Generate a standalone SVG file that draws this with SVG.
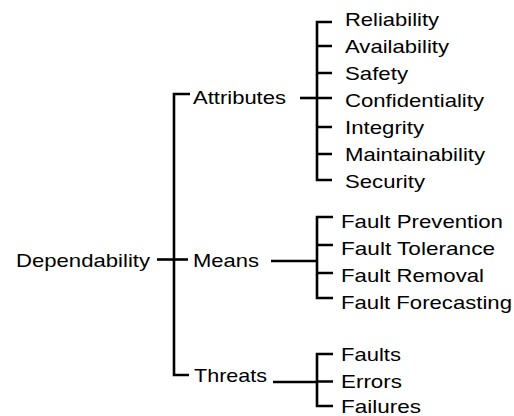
<svg xmlns="http://www.w3.org/2000/svg" width="514" height="416" viewBox="0 0 514 416">
<style>
text{font-family:"Liberation Sans",Arial,sans-serif;font-size:19px;fill:#000}
.c{fill:none;stroke:#000;stroke-width:2.6;stroke-linejoin:miter;stroke-linecap:butt}
</style>
<rect width="514" height="416" fill="#fff"/>
<g id="connectors">
<path class="c" d="M190,94H174V375H189"/>
<path class="c" d="M157,259.5H188"/>
<path class="c" d="M300,98H317"/>
<path class="c" d="M332,22H317V180H332M317,46H332M317,73H332M317,98H332M317,127H332M317,154H332"/>
<path class="c" d="M271,261H317"/>
<path class="c" d="M333,217H317V298H333M317,245H333M317,273H333"/>
<path class="c" d="M273,382H317"/>
<path class="c" d="M333,354H317V406H333M317,381.5H333"/>
</g>
<g id="n-dependability"><text x="16" y="266.5" textLength="134" lengthAdjust="spacingAndGlyphs">Dependability</text></g>
<g id="n-attributes"><text x="193" y="104" textLength="93" lengthAdjust="spacingAndGlyphs">Attributes</text></g>
<g id="n-means"><text x="193" y="266.5" textLength="66" lengthAdjust="spacingAndGlyphs">Means</text></g>
<g id="n-threats"><text x="194" y="382" textLength="73" lengthAdjust="spacingAndGlyphs">Threats</text></g>
<g id="n-reliability"><text x="345" y="25.5" textLength="94" lengthAdjust="spacingAndGlyphs">Reliability</text></g>
<g id="n-availability"><text x="345" y="52.5" textLength="104" lengthAdjust="spacingAndGlyphs">Availability</text></g>
<g id="n-safety"><text x="345" y="79.5" textLength="63" lengthAdjust="spacingAndGlyphs">Safety</text></g>
<g id="n-confidentiality"><text x="345" y="106.5" textLength="139" lengthAdjust="spacingAndGlyphs">Confidentiality</text></g>
<g id="n-integrity"><text x="345" y="133.5" textLength="79" lengthAdjust="spacingAndGlyphs">Integrity</text></g>
<g id="n-maintainability"><text x="345" y="160.5" textLength="140" lengthAdjust="spacingAndGlyphs">Maintainability</text></g>
<g id="n-security"><text x="345" y="187.5" textLength="80" lengthAdjust="spacingAndGlyphs">Security</text></g>
<g id="n-fault-prevention"><text x="341" y="227.5" textLength="162" lengthAdjust="spacingAndGlyphs">Fault Prevention</text></g>
<g id="n-fault-tolerance"><text x="341" y="254.5" textLength="154" lengthAdjust="spacingAndGlyphs">Fault Tolerance</text></g>
<g id="n-fault-removal"><text x="341" y="281.5" textLength="143" lengthAdjust="spacingAndGlyphs">Fault Removal</text></g>
<g id="n-fault-forecasting"><text x="341" y="308.5" textLength="171" lengthAdjust="spacingAndGlyphs">Fault Forecasting</text></g>
<g id="n-faults"><text x="341" y="361" textLength="60" lengthAdjust="spacingAndGlyphs">Faults</text></g>
<g id="n-errors"><text x="341" y="388" textLength="61" lengthAdjust="spacingAndGlyphs">Errors</text></g>
<g id="n-failures"><text x="341" y="412.5" textLength="80" lengthAdjust="spacingAndGlyphs">Failures</text></g>
</svg>
